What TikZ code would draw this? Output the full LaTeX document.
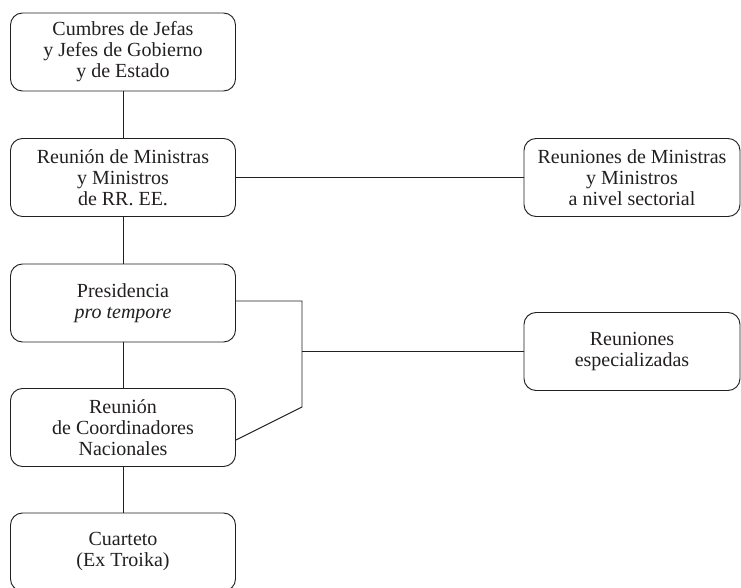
\documentclass[tikz,border=0pt]{standalone}
\usepackage{fontspec}
\setmainfont{Liberation Serif}
\usepackage{tikz}
\usetikzlibrary{positioning,calc}
\definecolor{orgLine}{RGB}{35,31,32}

\begin{document}
\begin{tikzpicture}[x=1pt, y=1pt]
	\tikzset{
		orgbox/.style={
			shape=rectangle,
			rounded corners=12pt,
			draw=orgLine,
			line width=0.95pt,
			fill=white,
			minimum width=225pt,
			minimum height=78pt,
			align=center,
			inner sep=2pt,
			font=\fontsize{20}{21}\selectfont,
			text=orgLine
		},
		sidebox/.style={orgbox, minimum width=216pt},
		orgedge/.style={draw=orgLine, line width=0.95pt}
	}
	\useasboundingbox (0,0) rectangle (741,-588);
	
	% columna izquierda
	\node[orgbox] (cumbres) at (123,-52) {Cumbres de Jefas\\y Jefes de Gobierno\\y de Estado};
	\node[orgbox] (ministras) at (123,-177.5) {Reunión de Ministras\\y Ministros\\de RR. EE.};
	\node[orgbox] (presidencia) at (123,-303) {Presidencia\\\textit{pro tempore}};
	\node[orgbox] (coordinadores) at (123,-427.5) {Reunión\\de Coordinadores\\Nacionales};
	\node[orgbox] (cuarteto) at (123,-552) {Cuarteto\\(Ex Troika)};
	
	% columna derecha
	\node[sidebox] (sectorial) at (632,-177.5) {Reuniones de Ministras\\y Ministros\\a nivel sectorial};
	\node[sidebox] (especializadas) at (632,-351.5) {Reuniones\\especializadas};
	
	\coordinate (junta) at (302,-301);
	\coordinate (medio) at (302,-351.5);
	\coordinate (pie) at (302,-407);
	
	\draw[orgedge] (cumbres) -- (ministras);
	\draw[orgedge] (ministras) -- (presidencia);
	\draw[orgedge] (presidencia) -- (coordinadores);
	\draw[orgedge] (coordinadores) -- (cuarteto);
	\draw[orgedge] (ministras.east) -- (sectorial.west);
	\draw[orgedge] (presidencia.east |- junta) -- (junta) -- (pie) -- ([yshift=-12.5pt]coordinadores.east);
	\draw[orgedge] (medio) -- (especializadas.west);
\end{tikzpicture}
\end{document}
